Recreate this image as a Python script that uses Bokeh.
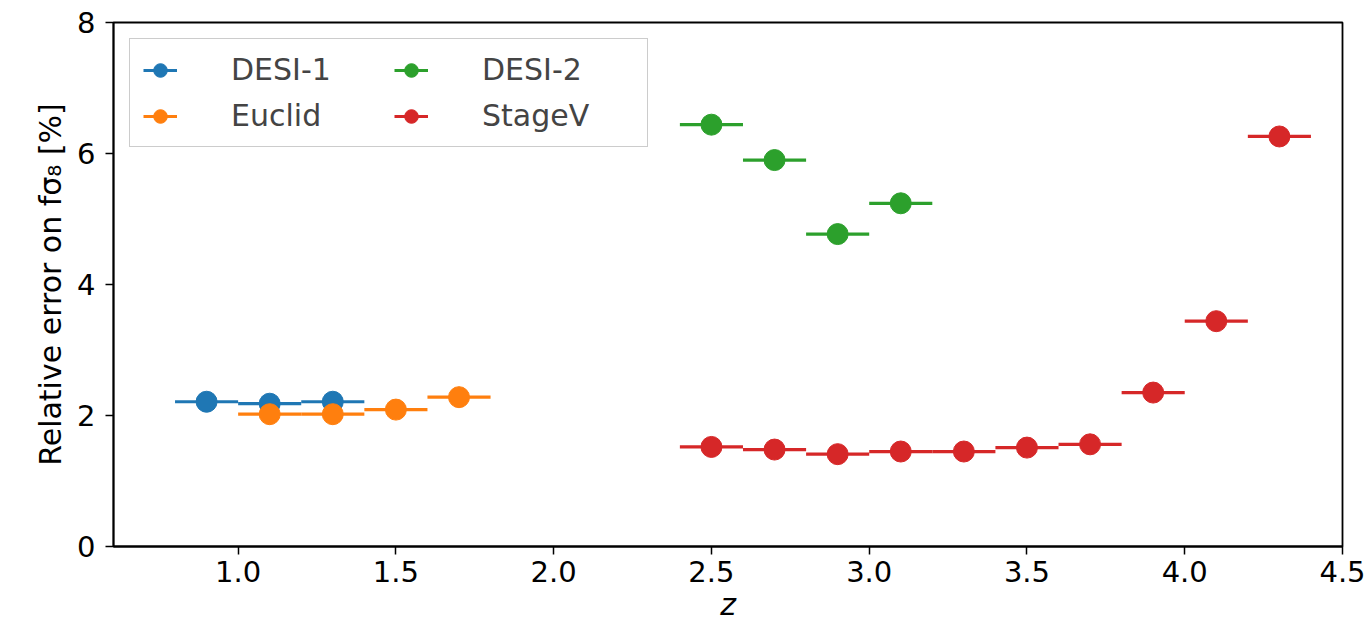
import numpy as np
from bokeh.plotting import figure
from bokeh.models import ColumnDataSource, Legend, LegendItem, FixedTicker, Range1d, CustomJSTickFormatter
from bokeh.embed import file_html
from bokeh.resources import INLINE

# ---- data ----
desi1_z = [0.9, 1.1, 1.3]
desi1_err = [2.21, 2.18, 2.21]

euclid_z = [1.1, 1.3, 1.5, 1.7]
euclid_err = [2.02, 2.02, 2.09, 2.28]

desi2_z = [2.5, 2.7, 2.9, 3.1]
desi2_err = [6.44, 5.90, 4.77, 5.24]

stagev_z = [2.5, 2.7, 2.9, 3.1, 3.3, 3.5, 3.7, 3.9, 4.1, 4.3]
stagev_err = [1.52, 1.48, 1.41, 1.45, 1.45, 1.51, 1.56, 2.35, 3.44, 6.26]

z_halfwidth = 0.1

series_names = ["DESI-1", "Euclid", "DESI-2", "StageV"]
colors = ["#1f77b4", "#ff7f0e", "#2ca02c", "#d62728"]

x_ticks = [1.0, 1.5, 2.0, 2.5, 3.0, 3.5, 4.0, 4.5]
y_ticks = [0, 2, 4, 6, 8]

FONT = "DejaVu Sans"

p = figure(width=1371, height=643, output_backend="svg", toolbar_location=None,
           x_range=Range1d(0.605, 4.5), y_range=Range1d(0, 8),
           min_border_left=113, min_border_right=29, min_border_top=22, min_border_bottom=97)

p.xgrid.visible = False
p.ygrid.visible = False
p.outline_line_color = "black"
p.outline_line_width = 1.8
p.outline_line_alpha = 1.0

for ax in (p.xaxis[0], p.yaxis[0]):
    ax.axis_line_color = "black"
    ax.axis_line_width = 1.8
    ax.major_tick_line_color = "black"
    ax.major_tick_line_width = 1.5
    ax.major_tick_out = 8
    ax.major_tick_in = 0
    ax.minor_tick_line_color = None
    ax.major_label_text_font = FONT
    ax.major_label_text_font_size = "29px"
    ax.major_label_text_color = "black"
    ax.axis_label_text_font = FONT
    ax.axis_label_text_font_size = "30px"
    ax.axis_label_text_color = "black"

p.xaxis.ticker = FixedTicker(ticks=x_ticks)
p.yaxis.ticker = FixedTicker(ticks=y_ticks)
p.xaxis.formatter = CustomJSTickFormatter(code="return tick.toFixed(1);")
p.xaxis.axis_label = "z"
p.xaxis.axis_label_text_font_style = "italic"
p.yaxis.axis_label = "Relative error on fσ₈ [%]"
p.yaxis.axis_label_text_font_style = "normal"
p.xaxis.major_label_standoff = 6
p.yaxis.major_label_standoff = 10
p.xaxis.axis_label_standoff = 2
p.yaxis.axis_label_standoff = 6

items = []
for name, zs, vals, col in zip(series_names,
                               [desi1_z, euclid_z, desi2_z, stagev_z],
                               [desi1_err, euclid_err, desi2_err, stagev_err],
                               colors):
    zs = np.array(zs)
    src = ColumnDataSource(dict(z=zs, y=vals, z0=zs - z_halfwidth, z1=zs + z_halfwidth))
    seg = p.segment(x0="z0", y0="y", x1="z1", y1="y", source=src, line_color=col, line_width=3.2)
    sc = p.scatter(x="z", y="y", source=src, size=21, fill_color=col, line_color=col, marker="circle")
    items.append(LegendItem(label=name, renderers=[seg, sc]))

legend = Legend(items=items, location="top_left", nrows=2,
                label_text_font=FONT, label_text_font_size="30px",
                border_line_color="#cccccc", border_line_width=1.2, border_line_alpha=1,
                background_fill_alpha=0.8, margin=16, padding=13,
                glyph_width=34, glyph_height=34, label_standoff=54, spacing=11,
                label_width=152)
p.add_layout(legend, "center")

open("out.html", "w").write(file_html(p, INLINE))
